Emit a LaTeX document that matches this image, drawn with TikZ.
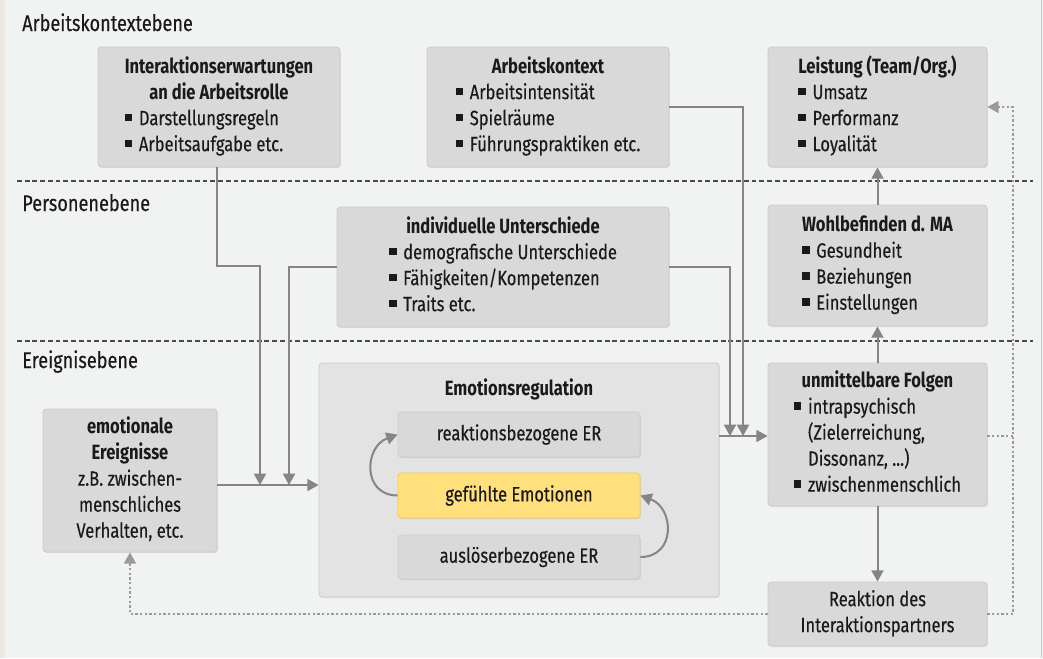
\documentclass[tikz,border=0pt]{standalone}
\usepackage{fontspec}
\setmainfont{Fira Sans}[FakeStretch=0.8, UprightFeatures={FakeBold=0.35}]
\usetikzlibrary{arrows.meta,shadows}

\definecolor{bg}{HTML}{F1F3F2}
\definecolor{edge}{HTML}{ECE8E0}
\definecolor{boxfill}{HTML}{D9D9D9}
\definecolor{boxline}{HTML}{CBCBCB}
\definecolor{bigfill}{HTML}{E3E3E3}
\definecolor{yelfill}{HTML}{FFE07C}
\definecolor{yelline}{HTML}{F5CB4E}
\definecolor{conn}{HTML}{858585}
\definecolor{dotc}{HTML}{9A9A9A}
\definecolor{ink}{HTML}{1A1A1A}
\definecolor{layerline}{HTML}{4A4A4A}

% bullet square and indentation for continued lines
\newcommand\bul{\rule[3pt]{5.6pt}{5.6pt}\hspace{5pt}}
\newcommand\ind{\hspace*{10.6pt}}
\newcommand\ttl[1]{\multicolumn{1}{@{}c@{}}{\bfseries #1}}

\begin{document}
\begin{tikzpicture}[x=0.75pt,y=-0.75pt,
  % rect={left}{top}{right}{bottom}, in pixel units
  rect/.style n args={4}{at={({(#1+#3)/2},{(#2+#4)/2})},
    minimum width={(#3-#1)*0.75pt}, minimum height={(#4-#2)*0.75pt}},
  txt/.style={font=\fontsize{15.5}{19.5}\selectfont, text=ink},
  box/.style={txt, rectangle, rounded corners=2.5pt, fill=boxfill, draw=boxline,
    line width=0.6pt, inner sep=0pt,
    drop shadow={opacity=0.18, shadow xshift=0.6pt, shadow yshift=-0.8pt}},
  bigbox/.style={box, fill=bigfill},
  yelbox/.style={box, fill=yelfill, draw=yelline},
  layer/.style={font=\fontsize{17}{20}\selectfont, text=ink, anchor=base west, inner sep=0pt},
  sep/.style={draw=layerline, line width=0.9pt, dash pattern=on 3.6pt off 2.2pt},
  arr/.style={draw=conn, line width=1.5pt, -{Triangle[length=8.5pt,width=9pt]}},
  dotl/.style={draw=dotc, line width=1.6pt, dash pattern=on 1.6pt off 1.9pt},
  darr/.style={dotl, -{Triangle[length=8.5pt,width=9pt]}},
]
% canvas
\useasboundingbox (0,0) rectangle (1043,658);
\fill[bg] (0,0) rectangle (1043,658);
\fill[edge] (0,0) rectangle (4.5,658);
\draw[draw=boxline, line width=0.6pt] (1041.5,0) -- (1041.5,658);

% level separators and level names
\draw[sep] (17,181) -- (1033,181);
\draw[sep] (17,341) -- (1033,341);
\node[layer] (l1) at (22,31) {Arbeitskontextebene};
\node[layer] (l2) at (22,211) {Personenebene};
\node[layer] (l3) at (22,368) {Ereignisebene};

% boxes
\node[box, rect={98}{47}{340}{167}] (inter) {\begin{tabular}{@{}l@{}}
  \ttl{Interaktionserwartungen}\\ \ttl{an die Arbeitsrolle}\\
  \bul Darstellungsregeln\\ \bul Arbeitsaufgabe etc.\end{tabular}};
\node[box, rect={427}{47}{669}{167}] (kontext) {\begin{tabular}{@{}l@{}}
  \ttl{Arbeitskontext}\\ \bul Arbeitsintensität\\ \bul Spielräume\\
  \bul Führungspraktiken etc.\end{tabular}};
\node[box, rect={768}{47}{987}{167}] (leist) {\begin{tabular}{@{}l@{}}
  \ttl{Leistung (Team/Org.)}\\ \bul Umsatz\\ \bul Performanz\\
  \bul Loyalität\end{tabular}};
\node[box, rect={768}{205}{987}{326}] (wohl) {\begin{tabular}{@{}l@{}}
  \ttl{Wohlbefinden d. MA}\\ \bul Gesundheit\\ \bul Beziehungen\\
  \bul Einstellungen\end{tabular}};
\node[box, rect={337}{207}{669}{327}] (indiv) {\begin{tabular}{@{}l@{}}
  \ttl{individuelle Unterschiede}\\ \bul demografische Unterschiede\\
  \bul Fähigkeiten/Kompetenzen\\ \bul Traits etc.\end{tabular}};
\node[box, rect={768}{363}{987}{506}] (folgen) {\begin{tabular}{@{}l@{}}
  \ttl{unmittelbare Folgen}\\ \bul intrapsychisch\\ \ind(Zielerreichung,\\
  \ind Dissonanz, ...)\\ \bul zwischenmenschlich\end{tabular}};
\node[box, rect={768}{582}{987}{646}] (reakt) {\begin{tabular}{@{}c@{}}
  Reaktion des\\ Interaktionspartners\end{tabular}};
\node[box, rect={43}{409}{217}{552}] (ereig) {\begin{tabular}{@{}c@{}}
  \bfseries emotionale\\ \bfseries Ereignisse\\ z.B. zwischen-\\
  menschliches\\ Verhalten, etc.\end{tabular}};

% emotion regulation
\node[bigbox, rect={319}{363}{719}{597}] (er) {};
\node[txt, anchor=base, inner sep=0pt, font=\fontsize{15.5}{19.5}\selectfont\bfseries] (ertitle) at (519,395) {Emotionsregulation};
\node[box, rect={398}{412}{640}{457}] (reak) {reaktionsbezogene ER};
\node[yelbox, rect={398}{473}{640}{518}] (gef) {gefühlte Emotionen};
\node[box, rect={398}{535}{640}{579}] (ausl) {auslöserbezogene ER};

% junction heights
\coordinate (hin) at (0,485);
\coordinate (hout) at (0,436);
\coordinate (jA) at (260,485);
\coordinate (jB) at (289,485);
\coordinate (jC) at (743,436);
\coordinate (jD) at (730,436);
\coordinate (dotx) at (1013,436);

% solid connectors
\draw[arr] (ereig.east |- hin) -- (er.west |- hin);
\draw[arr] (inter.south -| 217,0) |- (260,266) -- (jA);
\draw[arr] (indiv.west) -| (jB);
\draw[arr] (kontext.east) -| (jC);
\draw[arr] (indiv.east) -| (jD);
\draw[arr] (er.east |- hout) -- (folgen.west |- hout);
\draw[arr] (folgen.north) -- (wohl.south);
\draw[arr] (wohl.north) -- (leist.south);
\draw[arr] (folgen.south) -- (reakt.north);

% feedback loops inside the regulation box
\draw[arr] (gef.west) to[out=180,in=200,looseness=1.5] (reak.west);
\draw[arr] (ausl.east) to[out=0,in=-20,looseness=1.5] (gef.east);

% dotted feedback paths
\draw[dotl] (folgen.east |- hout) -- (dotx);
\draw[darr] (reakt.east) -| (dotx) |- (leist.east);
\draw[darr] (reakt.west) -| (ereig.south);
\end{tikzpicture}
\end{document}
